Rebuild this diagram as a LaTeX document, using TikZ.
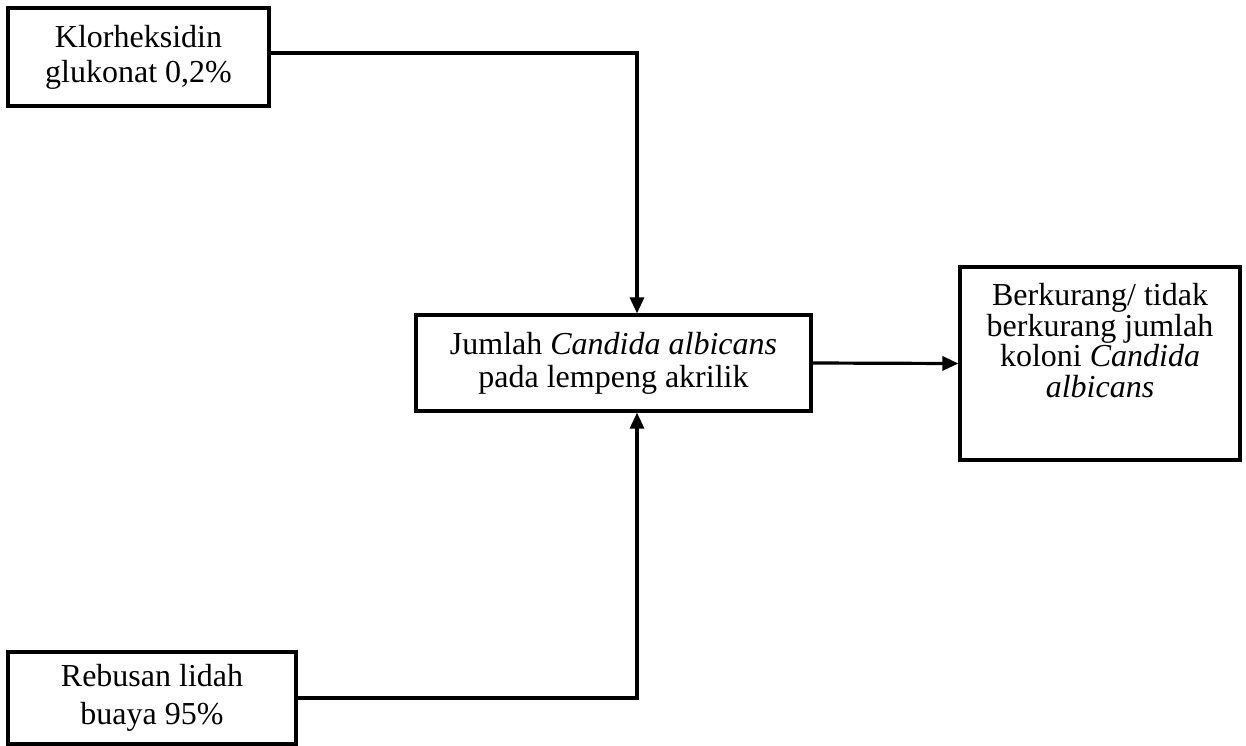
\documentclass[tikz,border=0pt]{standalone}
\usepackage{fontspec}
\setmainfont{Liberation Serif}
\usetikzlibrary{arrows.meta,positioning}

\begin{document}
\begin{tikzpicture}[->,>={Triangle[length=8pt,width=7pt]},x=0.5pt,y=-0.5pt,
 line width=1.6pt,var node/.style={rectangle,draw,align=center,inner sep=0pt,
 font=\fontsize{16}{17.5}\selectfont}]
\useasboundingbox (0,0) rectangle (1246,745);
%klorheksidin
  \node[var node,minimum width=130.5pt,minimum height=49pt] (klor) at (138.5,57)
    {Klorheksidin\\glukonat 0,2\%};
%rebusan
  \node[var node,minimum width=144pt,minimum height=46pt,
    font=\fontsize{16}{19}\selectfont] (rebusan) at (152,698)
    {Rebusan lidah\\buaya 95\%};
%jumlah
  \node[var node,minimum width=197.5pt,minimum height=48pt,
    font=\fontsize{16}{16.5}\selectfont] (jumlah) at (613.5,363)
    {Jumlah \textit{Candida albicans}\\pada lempeng akrilik};
%hasil
  \node[var node,minimum width=140pt,minimum height=96.5pt] (hasil) at (1100,363.5) {};
  \node[below=5pt,align=center,font=\fontsize{16}{15.2}\selectfont] (hasilteks) at (hasil.north)
    {Berkurang/ tidak\\berkurang jumlah\\koloni \textit{Candida}\\\textit{albicans}};
%paths
  \coordinate (simpang) at (637,363);
  \draw ([yshift=2pt]klor.east) -| (simpang |- jumlah.north);
  \draw (rebusan.east) -| (simpang |- jumlah.south);
  \draw (jumlah.east) -- (hasil.west);
\end{tikzpicture}
\end{document}
